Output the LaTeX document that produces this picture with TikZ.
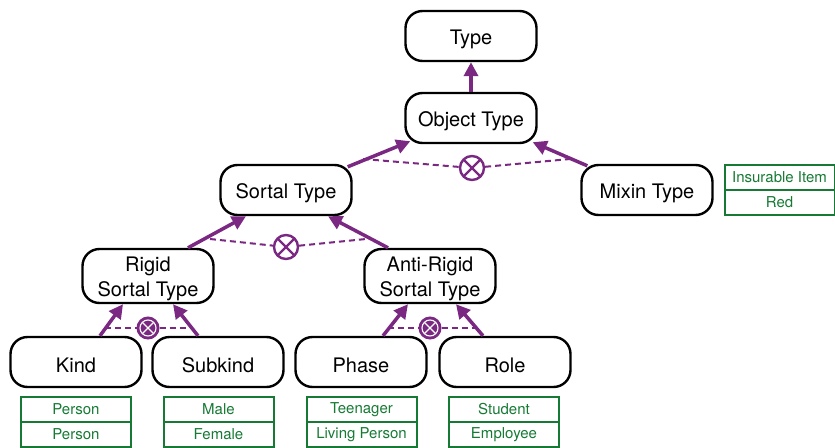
\documentclass[tikz,border=0pt]{standalone}
\usepackage{fontspec}
\setmainfont{TeX Gyre Heros}
\usetikzlibrary{arrows.meta,calc}
\definecolor{pur}{RGB}{122,40,130}
\definecolor{grn}{RGB}{22,122,52}
\newcommand{\lowertxt}[1]{\raisebox{-3pt}[\height][\depth]{#1}}
\begin{document}
\begin{tikzpicture}[x=1pt,y=-1pt,
 typebox/.style={draw=black,line width=2.4pt,rounded corners=17pt,minimum width=131pt,minimum height=50pt,inner sep=2pt,font=\fontsize{20}{25}\selectfont,fill=white},
 tag/.style={draw=grn,line width=2pt,minimum width=110pt,minimum height=25pt,inner sep=0pt,text=grn,font=\fontsize{15}{17}\selectfont},
 gen/.style={draw=pur,line width=3.5pt,-{Triangle[length=14pt,width=14pt]}},
 disj/.style={draw=pur,line width=2pt,dash pattern=on 6pt off 4pt},
 xcirc/.style={circle,draw=pur,fill=white,line width=2.4pt,minimum size=24pt,inner sep=0pt,
   path picture={\draw[pur,line width=2.4pt] (path picture bounding box.north west) -- (path picture bounding box.south east)
     (path picture bounding box.north east) -- (path picture bounding box.south west);}},
 fcirc/.style={circle,draw=pur,fill=pur,line width=1pt,minimum size=22pt,inner sep=0pt},
 fring/.style={draw=white,line width=1.1pt},
 fx/.style={draw=white,line width=1.1pt}
]
\useasboundingbox (0,0) rectangle (835,447);

% type nodes
\node[typebox] (type) at (471,36) {\lowertxt{Type}};
\node[typebox] (object) at (471,118) {\lowertxt{Object Type}};
\node[typebox] (sortal) at (286,190) {\lowertxt{Sortal Type}};
\node[typebox] (mixin) at (647,190) {\lowertxt{Mixin Type}};
\node[typebox] (rigid) at (148,276) {\lowertxt{\begin{tabular}{@{}c@{}}Rigid\\Sortal Type\end{tabular}}};
\node[typebox] (anti) at (430,276) {\lowertxt{\begin{tabular}{@{}c@{}}Anti-Rigid\\Sortal Type\end{tabular}}};
\node[typebox] (kind) at (76,362) {\lowertxt{Kind}};
\node[typebox] (subkind) at (218,362) {\lowertxt{Subkind}};
\node[typebox] (phase) at (361,362) {\lowertxt{Phase}};
\node[typebox] (role) at (505,362) {\lowertxt{Role}};

% tags
\node[tag] (t1a) at (76,409.5) {Person};
\node[tag] (t1b) at (76,434.5) {Person};
\node[tag] (t2a) at (218.5,409.5) {Male};
\node[tag] (t2b) at (218.5,434.5) {Female};
\node[tag] (t3a) at (361.5,409.5) {Teenager};
\node[tag] (t3b) at (361.5,434.5) {Living Person};
\node[tag] (t4a) at (504,409.5) {Student};
\node[tag] (t4b) at (504,434.5) {Employee};
\node[tag] (t5a) at (779.5,177.5) {Insurable Item};
\node[tag] (t5b) at (779.5,202.5) {Red};

% disjointness markers
\coordinate (d1) at (363,159);
\coordinate (d2) at (570,159);
\node[xcirc] (c1) at (472,168) {};
\draw[disj] (d1) -- (c1) -- (d2);

\coordinate (d3) at (210,239);
\coordinate (d4) at (366,239);
\node[xcirc] (c2) at (286,247) {};
\draw[disj] (d3) -- (c2) -- (d4);

\coordinate (d5) at (105,328);
\coordinate (d6) at (192,328);
\node[fcirc] (c3) at (148,328) {};
\draw[fring] (c3.center) circle (8pt);
\draw[fx] ($(c3.center)+(-5.6,-5.6)$) -- ($(c3.center)+(5.6,5.6)$) ($(c3.center)+(5.6,-5.6)$) -- ($(c3.center)+(-5.6,5.6)$);
\draw[disj] (d5) -- (c3) -- (d6);

\coordinate (d7) at (388,328);
\coordinate (d8) at (476,328);
\node[fcirc] (c4) at (430,328) {};
\draw[fring] (c4.center) circle (8pt);
\draw[fx] ($(c4.center)+(-5.6,-5.6)$) -- ($(c4.center)+(5.6,5.6)$) ($(c4.center)+(5.6,-5.6)$) -- ($(c4.center)+(-5.6,5.6)$);
\draw[disj] (d7) -- (c4) -- (d8);

% generalizations
\draw[gen] (object.north) -- (type.south);
\draw[gen] ($(sortal.north east)+(-5,3)$) -- ($(object.south west)+(6,-3)$);
\draw[gen] ($(mixin.north west)+(7,2)$) -- ($(object.south east)+(-5,-2)$);
\draw[gen] ([xshift=40pt]rigid.north) -- ([xshift=-40pt]sortal.south);
\draw[gen] ([xshift=-42pt]anti.north) -- ([xshift=42pt]sortal.south);
\draw[gen] ([xshift=24pt]kind.north) -- ([xshift=-25pt]rigid.south);
\draw[gen] ([xshift=-20pt]subkind.north) -- ([xshift=25pt]rigid.south);
\draw[gen] ([xshift=22pt]phase.north) -- ([xshift=-22pt]anti.south);
\draw[gen] ([xshift=-22pt]role.north) -- ([xshift=26pt]anti.south);
\end{tikzpicture}
\end{document}
